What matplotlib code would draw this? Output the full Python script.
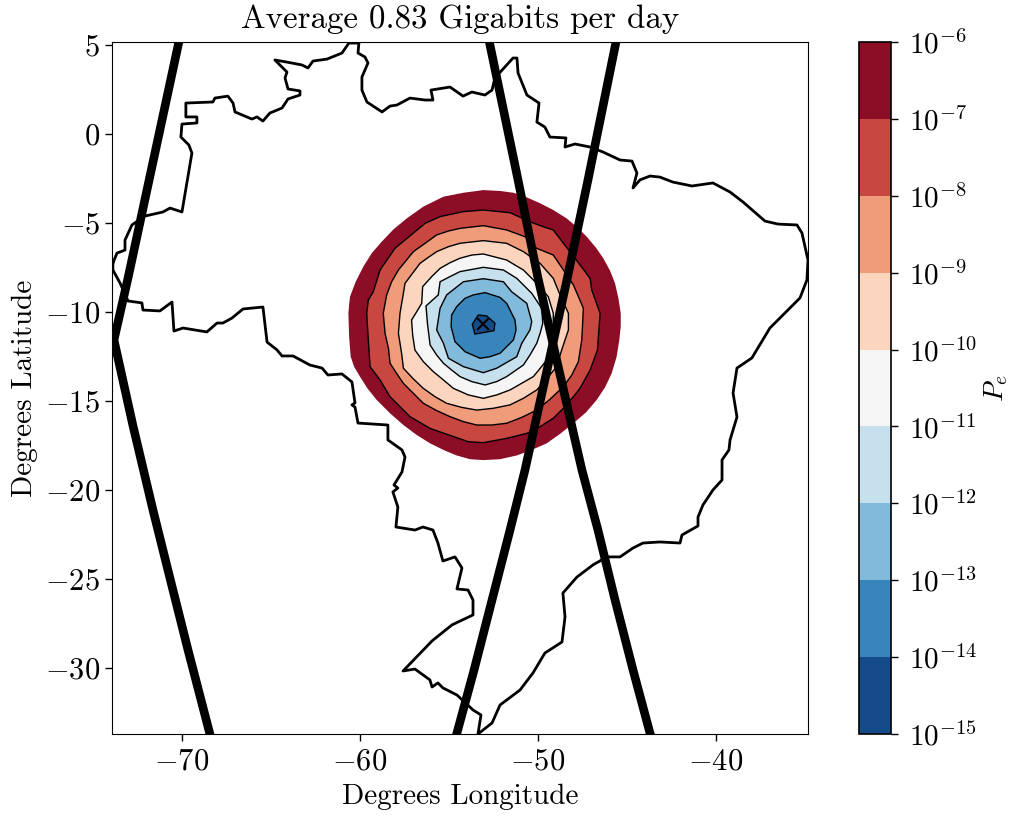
import matplotlib
matplotlib.use("Agg")
import matplotlib.pyplot as plt
from matplotlib.colors import BoundaryNorm, ListedColormap
from matplotlib.cm import ScalarMappable
import numpy as np

plt.rcParams['font.family'] = 'cmr10'
plt.rcParams['mathtext.fontset'] = 'cm'
plt.rcParams['axes.formatter.use_mathtext'] = True

# country outline (degrees)
border_lon = [-73.88,-73.65,-73.20,-73.20,-72.81,-72.08,-71.07,-70.67,-70.00,-69.44,-69.61,-70.06,-70.00,-69.16,-69.16,-69.78,-69.78,-68.26,-68.15,-67.42,-67.13,-67.02,-66.07,-65.79,-65.45,-65.06,-64.38,-64.04,-63.37,-63.37,-64.04,-64.21,-64.10,-64.78,-64.10,-63.26,-62.92,-62.64,-61.85,-61.01,-60.62,-60.06,-60.11,-59.72,-59.55,-59.89,-59.89,-59.61,-58.76,-58.31,-57.92,-57.19,-56.35,-55.90,-56.01,-54.94,-54.21,-53.71,-52.98,-52.58,-52.42,-51.40,-51.18,-51.12,-50.62,-49.94,-50.06,-49.61,-49.33,-48.43,-48.48,-47.92,-47.08,-46.35,-45.39,-44.72,-44.44,-44.66,-44.27,-43.71,-43.15,-42.42,-41.35,-40.17,-39.21,-38.48,-37.25,-36.52,-35.45,-35.17,-34.83,-34.89,-35.28,-36.97,-37.98,-38.82,-39.04,-38.82,-39.21,-39.27,-39.66,-39.66,-40.17,-40.73,-41.01,-41.01,-41.91,-42.02,-43.15,-44.10,-44.66,-45.39,-46.12,-46.91,-47.81,-48.60,-48.48,-48.65,-49.61,-50.28,-51.01,-52.13,-52.58,-53.37,-53.20,-53.65,-54.55,-55.34,-55.62,-55.95,-56.07,-56.91,-57.58,-55.95,-54.83,-53.65,-53.65,-53.93,-54.55,-54.27,-54.66,-55.34,-55.62,-55.90,-56.46,-56.91,-57.98,-57.87,-58.15,-57.87,-58.09,-57.64,-57.47,-57.64,-58.43,-58.43,-60.11,-60.28,-60.45,-60.28,-60.45,-61.01,-61.80,-62.13,-62.81,-63.76,-64.38,-64.66,-65.22,-65.45,-66.57,-67.19,-67.70,-68.03,-68.60,-69.94,-70.45,-70.56,-71.24,-72.19,-72.25,-73.03,-73.48,-73.88,-73.88]
border_lat = [-7.25,-6.69,-6.52,-5.96,-5.11,-4.61,-4.38,-4.16,-4.38,-1.07,-0.62,-0.17,0.56,0.62,0.96,0.96,1.74,1.80,2.02,2.13,1.74,1.24,0.84,0.96,0.73,1.18,1.46,1.97,2.19,2.42,2.53,3.15,3.48,4.16,4.04,3.88,3.71,4.10,4.21,4.55,5.11,5.11,4.55,4.33,3.99,3.20,2.47,1.80,1.24,1.57,1.63,2.02,1.91,1.91,2.47,2.64,2.13,2.36,2.19,2.47,3.15,4.27,4.27,3.43,2.19,1.74,0.67,0.39,-0.17,-0.22,-0.73,-0.56,-0.73,-1.01,-1.46,-1.52,-2.19,-3.03,-2.58,-2.36,-2.42,-2.70,-2.92,-2.75,-3.26,-3.82,-4.89,-5.06,-5.11,-5.56,-7.08,-8.20,-9.21,-10.90,-12.58,-13.15,-14.55,-15.90,-17.19,-17.75,-18.31,-19.44,-20.00,-20.84,-21.52,-22.02,-22.53,-22.98,-22.92,-22.98,-23.26,-23.76,-23.76,-24.21,-24.89,-25.79,-27.13,-28.54,-29.16,-30.28,-31.24,-32.08,-33.09,-33.71,-32.64,-32.36,-31.52,-31.12,-30.84,-31.07,-30.67,-30.06,-30.17,-28.48,-27.58,-27.02,-26.18,-25.62,-25.56,-24.38,-23.76,-23.99,-22.98,-22.25,-22.08,-22.25,-22.08,-20.96,-20.11,-19.89,-19.72,-18.99,-18.15,-17.75,-17.19,-16.35,-16.24,-15.34,-15.22,-15.11,-13.93,-13.48,-13.54,-13.15,-12.98,-12.47,-12.47,-12.13,-11.69,-9.72,-9.83,-10.34,-10.62,-10.62,-11.12,-10.90,-11.07,-9.44,-9.94,-9.89,-9.49,-9.38,-8.37,-7.64,-7.25]

# satellite ground tracks
track_a_lon = [-70.03,-73.03,-73.82,-72.75,-71.63,-70.79,-69.66,-68.43,-68.20]
track_a_lat = [5.84,-8.09,-11.57,-16.40,-21.12,-24.49,-28.99,-33.71,-34.60]
track_b_lon = [-52.87,-51.12,-50.00,-48.82,-47.53,-46.63,-45.67,-44.66,-43.71,-43.43]
track_b_lat = [5.84,-2.58,-8.09,-13.26,-18.88,-22.25,-26.18,-30.11,-33.65,-34.60]
track_c_lon = [-45.48,-47.19,-48.35,-49.49,-50.73,-51.57,-52.58,-53.59,-54.55,-54.83]
track_c_lat = [5.84,-2.58,-8.09,-13.26,-18.88,-22.25,-26.18,-30.11,-33.65,-34.60]

# ground station
station_lon = -53.11
station_lat = -10.69

# filled error-rate contours, outermost first
contour_1e6_lon = [-53.07,-52.13,-51.38,-50.63,-49.88,-49.14,-48.39,-47.79,-47.26,-46.74,-46.33,-45.95,-45.67,-45.48,-45.35,-45.35,-45.43,-45.58,-45.86,-46.23,-46.70,-47.30,-48.01,-48.76,-49.51,-50.35,-51.19,-52.13,-53.07,-53.82,-54.57,-55.31,-56.06,-56.81,-57.56,-58.31,-59.06,-59.58,-60.00,-60.33,-60.52,-60.61,-60.65,-60.61,-60.56,-60.24,-59.81,-59.34,-58.78,-58.12,-57.37,-56.44,-55.31,-54.19]
contour_1e6_lat = [-3.15,-3.20,-3.30,-3.56,-3.89,-4.27,-4.74,-5.24,-5.77,-6.39,-6.98,-7.68,-8.39,-9.23,-10.07,-10.82,-11.57,-12.51,-13.45,-14.23,-14.94,-15.64,-16.25,-16.85,-17.38,-17.75,-18.06,-18.27,-18.32,-18.27,-18.06,-17.75,-17.38,-16.91,-16.35,-15.69,-14.94,-14.29,-13.63,-13.07,-12.51,-11.39,-10.07,-9.61,-9.14,-8.30,-7.45,-6.70,-6.05,-5.36,-4.74,-4.08,-3.52,-3.30]
contour_1e7_lon = [-53.07,-51.57,-50.45,-49.70,-49.14,-48.57,-47.92,-47.07,-46.98,-46.51,-46.66,-47.07,-47.64,-48.01,-48.57,-49.14,-49.88,-50.63,-51.76,-53.07,-53.91,-54.75,-56.06,-57.19,-57.75,-58.31,-58.87,-59.43,-59.53,-59.62,-59.53,-59.25,-58.87,-58.03,-56.91,-56.34,-55.50,-54.19]
contour_1e7_lat = [-4.27,-4.42,-4.93,-5.21,-5.39,-6.14,-6.98,-8.11,-8.76,-10.07,-12.14,-13.26,-14.29,-14.76,-15.41,-15.97,-16.44,-16.82,-17.10,-17.34,-17.29,-17.00,-16.54,-15.88,-15.32,-14.76,-13.82,-13.07,-11.57,-10.07,-9.33,-8.86,-7.64,-6.42,-5.49,-5.02,-4.64,-4.36]
contour_1e8_lon = [-53.07,-51.76,-50.73,-50.07,-49.14,-48.57,-48.01,-47.45,-47.49,-47.54,-47.73,-48.10,-48.57,-49.32,-50.07,-50.91,-51.76,-52.60,-53.44,-54.19,-54.94,-55.69,-56.44,-57.00,-57.56,-57.94,-58.31,-58.40,-58.59,-58.69,-58.50,-58.22,-57.84,-57.00,-56.34,-55.69,-55.03,-54.38]
contour_1e8_lat = [-5.15,-5.39,-5.77,-6.42,-6.80,-7.64,-8.48,-9.79,-10.64,-11.57,-12.79,-13.54,-14.19,-14.90,-15.51,-15.92,-16.25,-16.35,-16.35,-16.16,-15.88,-15.54,-15.13,-14.57,-14.01,-13.45,-12.88,-12.04,-11.20,-10.07,-9.04,-8.30,-7.64,-6.61,-6.14,-5.67,-5.45,-5.30]
contour_1e9_lon = [-53.07,-51.76,-50.82,-49.88,-49.14,-48.76,-48.29,-48.29,-48.48,-48.67,-48.95,-49.51,-50.07,-50.82,-51.57,-52.51,-53.44,-54.28,-55.13,-55.78,-56.44,-57.00,-57.56,-57.66,-57.84,-57.75,-57.56,-57.47,-56.63,-56.16,-55.69,-55.03,-54.38]
contour_1e9_lat = [-5.99,-6.14,-6.61,-7.27,-8.11,-9.04,-10.07,-11.01,-11.57,-12.14,-13.07,-13.76,-14.38,-14.85,-15.22,-15.41,-15.51,-15.36,-15.13,-14.76,-14.29,-13.76,-13.16,-12.32,-11.20,-10.07,-8.95,-8.39,-7.27,-6.93,-6.61,-6.33,-6.14]
contour_1e10_lon = [-53.07,-51.76,-50.82,-50.07,-49.42,-49.14,-49.14,-49.32,-49.51,-49.88,-50.26,-51.57,-52.32,-53.07,-53.91,-54.75,-55.31,-55.88,-56.44,-56.91,-57.04,-57.10,-56.81,-56.53,-56.48,-55.97,-55.50,-54.94,-54.38,-53.72]
contour_1e10_lat = [-6.74,-7.08,-7.64,-8.39,-9.14,-10.07,-11.39,-12.04,-12.70,-13.17,-13.63,-14.38,-14.66,-14.85,-14.66,-14.29,-13.82,-13.35,-12.79,-12.14,-11.29,-10.45,-9.98,-9.51,-8.58,-8.01,-7.55,-7.23,-6.98,-6.80]
contour_1e11_lon = [-53.07,-51.94,-51.19,-50.35,-49.79,-49.73,-49.88,-50.07,-50.45,-50.82,-51.76,-52.32,-52.97,-53.72,-54.38,-54.85,-55.31,-55.69,-56.06,-56.21,-56.29,-55.60,-55.50,-54.94,-54.38]
contour_1e11_lat = [-7.49,-7.64,-8.11,-8.95,-9.79,-10.64,-11.20,-11.76,-12.42,-12.98,-13.63,-13.91,-14.10,-13.91,-13.63,-13.26,-12.88,-12.42,-11.85,-10.64,-9.66,-9.04,-8.30,-8.01,-7.73]
contour_1e12_lon = [-53.07,-51.94,-51.48,-50.63,-50.35,-50.45,-50.91,-51.19,-52.32,-53.07,-54.19,-55.03,-55.31,-55.69,-55.50,-55.13,-54.19]
contour_1e12_lat = [-8.13,-8.30,-8.86,-9.51,-10.54,-11.01,-11.76,-12.51,-13.16,-13.41,-13.07,-12.60,-11.76,-11.01,-9.79,-9.04,-8.30]
contour_1e13_lon = [-52.97,-52.13,-51.76,-51.29,-51.23,-51.38,-52.13,-52.69,-53.25,-54.10,-54.38,-54.66,-54.88,-54.85,-54.57,-54.10,-53.63]
contour_1e13_lat = [-8.91,-9.18,-9.51,-10.45,-11.01,-11.57,-12.32,-12.51,-12.60,-12.23,-11.94,-11.67,-10.82,-10.17,-9.70,-9.23,-9.04]
contour_1e14_lon = [-53.35,-52.88,-52.42,-52.47,-53.54,-53.69]
contour_1e14_lat = [-10.17,-10.22,-10.63,-11.05,-11.24,-10.69]

contours = [
    (contour_1e6_lon, contour_1e6_lat),
    (contour_1e7_lon, contour_1e7_lat),
    (contour_1e8_lon, contour_1e8_lat),
    (contour_1e9_lon, contour_1e9_lat),
    (contour_1e10_lon, contour_1e10_lat),
    (contour_1e11_lon, contour_1e11_lat),
    (contour_1e12_lon, contour_1e12_lat),
    (contour_1e13_lon, contour_1e13_lat),
    (contour_1e14_lon, contour_1e14_lat),
]

level_colors = ['#8b0e26', '#c94741', '#f09c7b', '#fcd5bf', '#f5f5f5',
                '#c7e0ed', '#82badb', '#3885bc', '#134c88']
levels = [1e-15, 1e-14, 1e-13, 1e-12, 1e-11, 1e-10, 1e-9, 1e-8, 1e-7, 1e-6]
level_labels = [r'$10^{-15}$', r'$10^{-14}$', r'$10^{-13}$', r'$10^{-12}$', r'$10^{-11}$',
                r'$10^{-10}$', r'$10^{-9}$', r'$10^{-8}$', r'$10^{-7}$', r'$10^{-6}$']

x_ticks = [-70, -60, -50, -40]
x_tick_labels = [r'$-70$', r'$-60$', r'$-50$', r'$-40$']
y_ticks = [5, 0, -5, -10, -15, -20, -25, -30]
y_tick_labels = [r'$5$', r'$0$', r'$-5$', r'$-10$', r'$-15$', r'$-20$', r'$-25$', r'$-30$']

W, H = 1014, 816
fig = plt.figure(figsize=(W / 100, H / 100), dpi=100)
ax = fig.add_axes([112 / W, 1 - 734 / H, 696 / W, 692 / H])
cax = fig.add_axes([859 / W, 1 - 734 / H, 32 / W, 692 / H])

for i, ((clon, clat), col) in enumerate(zip(contours, level_colors)):
    ax.fill(clon, clat, facecolor=col, edgecolor='black' if i > 0 else 'none',
            linewidth=1.0 if i > 0 else 0, zorder=2 + i * 0.01)

ax.plot(border_lon, border_lat, color='black', lw=2.0, solid_joinstyle='round', zorder=3)
for tlon, tlat in [(track_a_lon, track_a_lat), (track_b_lon, track_b_lat), (track_c_lon, track_c_lat)]:
    ax.plot(tlon, tlat, color='black', lw=6.2, solid_joinstyle='miter', zorder=4)
ax.plot([station_lon], [station_lat], marker='x', color='black', ms=9, mew=1.5, zorder=5)

ax.set_xlim(-73.93, -34.83)
ax.set_ylim(-33.71, 5.17)
ax.set_xticks(x_ticks, x_tick_labels)
ax.set_yticks(y_ticks, y_tick_labels)
ax.tick_params(labelsize=22, length=5, width=1)
ax.tick_params(axis='x', pad=5)
ax.set_xlabel('Degrees Longitude', fontsize=21, labelpad=6)
ax.set_ylabel('Degrees Latitude', fontsize=21, labelpad=5)
ax.set_title('Average 0.83 Gigabits per day', fontsize=23.7, pad=10)

cmap = ListedColormap(level_colors[::-1])
norm = BoundaryNorm(levels, cmap.N)
cb = fig.colorbar(ScalarMappable(norm=norm, cmap=cmap), cax=cax, spacing='uniform', ticks=levels)
cb.set_ticklabels(level_labels)
cb.ax.minorticks_off()
cb.ax.tick_params(labelsize=21, length=5, width=1, pad=8)
cb.outline.set_linewidth(1.2)
cb.set_label(r'$P_e$', fontsize=20, labelpad=4)

fig.savefig('out.png', dpi=100)
